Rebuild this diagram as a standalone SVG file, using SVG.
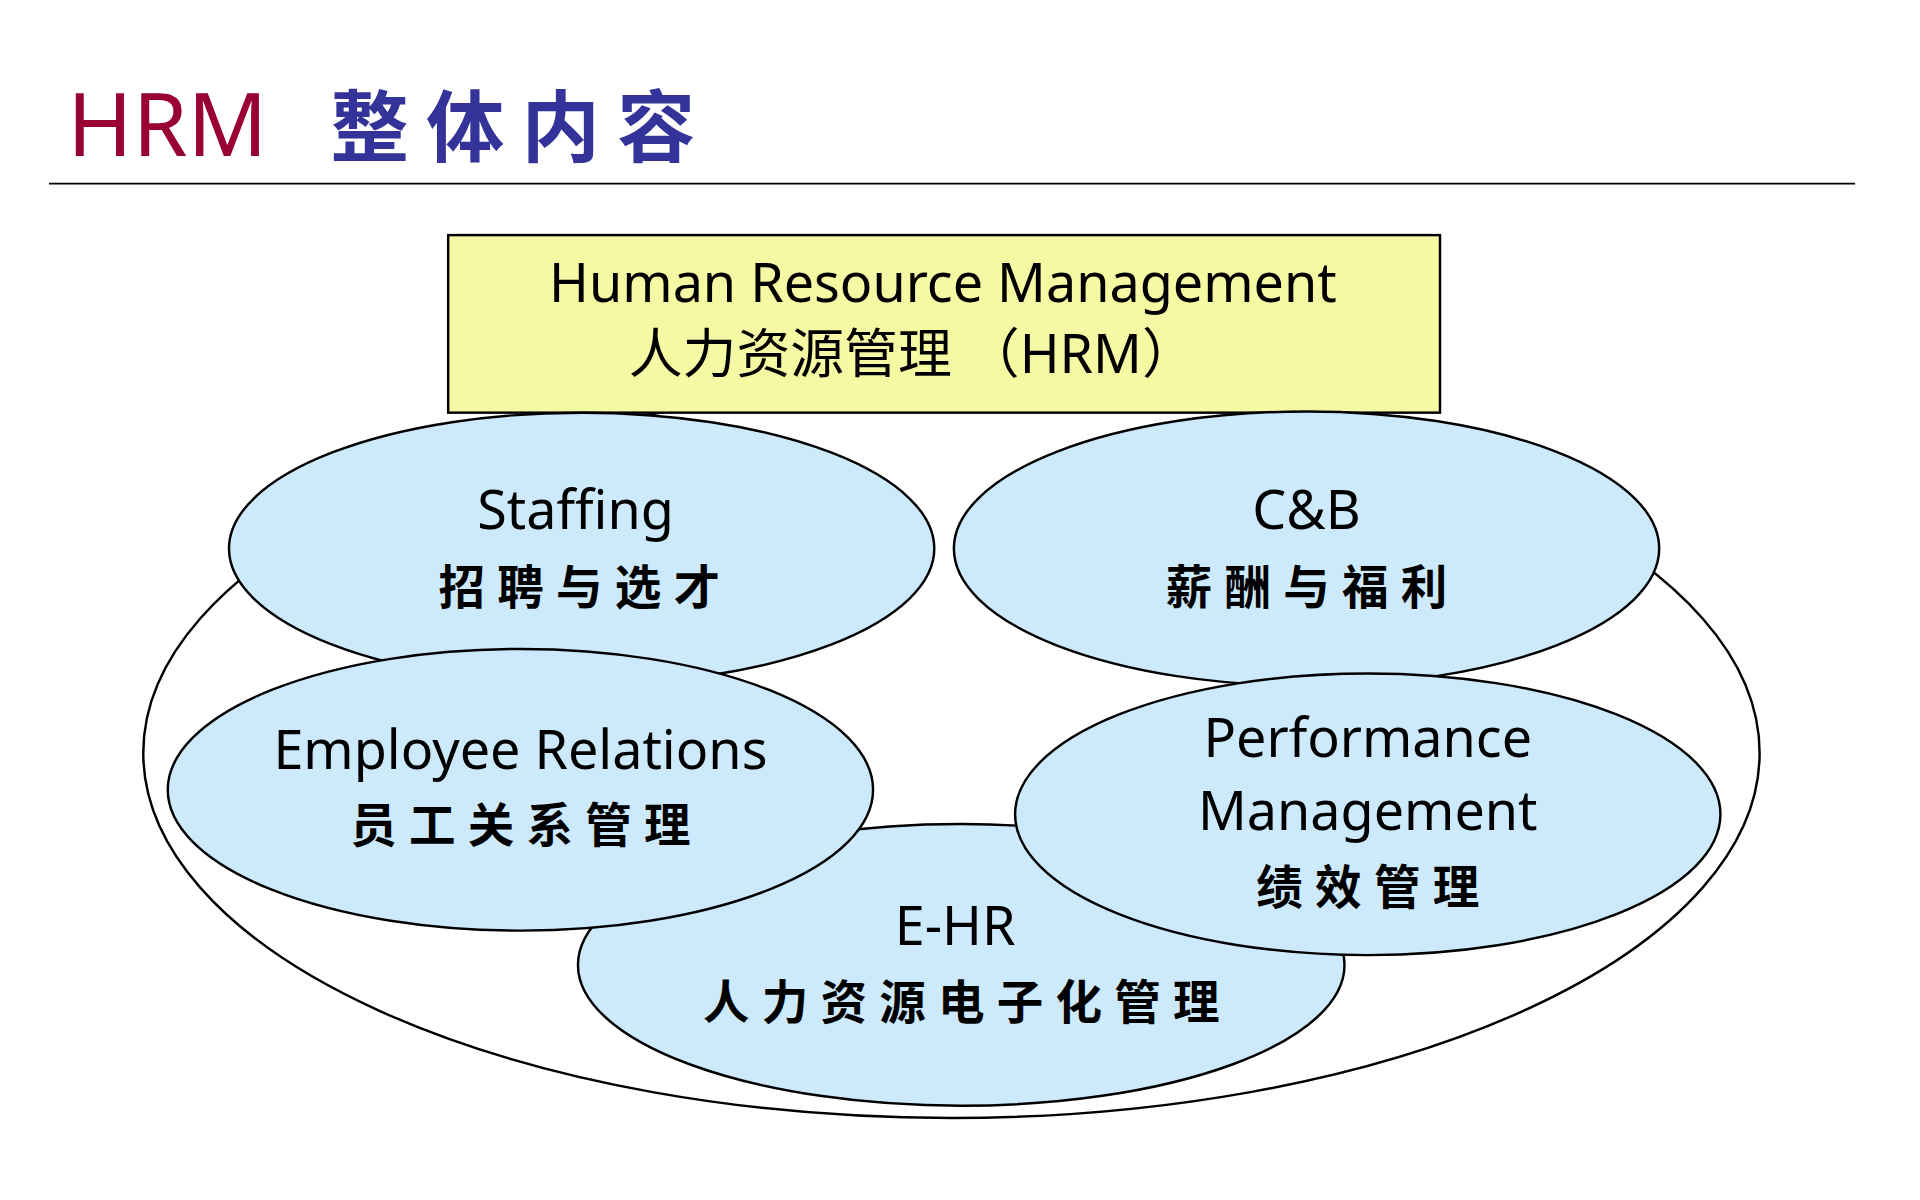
<svg xmlns="http://www.w3.org/2000/svg" width="1920" height="1200" viewBox="0 0 1920 1200">
<style>
.e{fill:#cdeafc;stroke:#000;stroke-width:2}
.t{font-family:"Noto Sans","Noto Sans CJK SC",sans-serif;font-size:44px;fill:#000;text-anchor:middle}
.c{font-family:"Noto Sans CJK SC",sans-serif;font-size:38px;fill:#000;text-anchor:middle;letter-spacing:10px;font-weight:bold}
</style>
<rect width="1920" height="1200" fill="#fff"/>
<g transform="scale(1.2245)">
<g id="title">
<text x="55" y="127" font-family="Noto Sans,sans-serif" font-size="72" fill="#990033">HRM</text>
<text x="270" y="127" font-family="Noto Sans CJK SC,sans-serif" font-size="64" fill="#333399" letter-spacing="14" font-weight="bold">整体内容</text>
<line x1="40" y1="150" x2="1515" y2="150" stroke="#000" stroke-width="1.5"/>
</g>
<g id="outer"><ellipse cx="777" cy="615" rx="660" ry="298" fill="none" stroke="#000" stroke-width="2"/></g>
<g id="hrm">
<rect x="366" y="192" width="810" height="145" fill="#f5f9a4" stroke="#000" stroke-width="2"/>
<text class="t" x="770" y="247">Human Resource Management</text>
<text class="t" x="745" y="305">人力资源管理 （HRM）</text>
</g>
<g id="staffing"><ellipse class="e" cx="475" cy="448" rx="288" ry="111"/>
<text class="t" x="470" y="432">Staffing</text><text class="c" x="478" y="493">招聘与选才</text></g>
<g id="cb"><ellipse class="e" cx="1067" cy="448" rx="288" ry="112"/>
<text class="t" x="1067" y="432">C&amp;B</text><text class="c" x="1072" y="493">薪酬与福利</text></g>
<g id="ehr"><ellipse class="e" cx="785" cy="788" rx="313" ry="115"/>
<text class="t" x="780" y="772">E-HR</text><text class="c" x="790" y="832">人力资源电子化管理</text></g>
<g id="er"><ellipse class="e" cx="425" cy="645" rx="288" ry="115"/>
<text class="t" x="425" y="628">Employee Relations</text><text class="c" x="430" y="688">员工关系管理</text></g>
<g id="pm"><ellipse class="e" cx="1117" cy="665" rx="288" ry="115"/>
<text class="t" x="1117" y="618">Performance</text><text class="t" x="1117" y="678">Management</text><text class="c" x="1122" y="738">绩效管理</text></g>
</g>
</svg>
